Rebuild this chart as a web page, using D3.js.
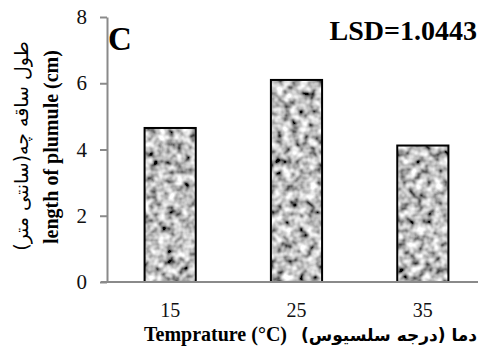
<!DOCTYPE html>
<html>
<head>
<meta charset="utf-8">
<script src="https://cdn.jsdelivr.net/npm/d3@7"></script>
<style>
  html, body { margin: 0; padding: 0; background: #fff; }
  svg { display: block; }
</style>
</head>
<body>
<svg id="chart" width="478" height="356"></svg>
<script>
// data
const categories = ['15', '25', '35'];
const values = [4.65, 6.1, 4.12];
const yTicks = [0, 2, 4, 6, 8];

const width = 478, height = 356;
const margin = { top: 17, right: -8, bottom: 74, left: 107 };

const svg = d3.select('#chart');

// granite-like texture for the bars
const defs = svg.append('defs');
const filter = defs.append('filter')
  .attr('id', 'granite')
  .attr('x', 0).attr('y', 0).attr('width', 1).attr('height', 1);
filter.append('feTurbulence')
  .attr('type', 'fractalNoise')
  .attr('baseFrequency', 0.12)
  .attr('numOctaves', 2)
  .attr('seed', 7)
  .attr('result', 'noise');
filter.append('feColorMatrix')
  .attr('in', 'noise')
  .attr('type', 'matrix')
  .attr('values', '1.9 0 0 0 -0.42  1.9 0 0 0 -0.42  1.9 0 0 0 -0.42  0 0 0 0 1')
  .attr('result', 'gray');
filter.append('feComposite')
  .attr('in', 'gray')
  .attr('in2', 'SourceGraphic')
  .attr('operator', 'in');

const x = d3.scaleBand()
  .domain(categories)
  .range([margin.left, width - margin.right])
  .paddingInner(0.595)
  .paddingOuter(0.2975);

const y = d3.scaleLinear()
  .domain([0, 8])
  .range([height - margin.bottom, margin.top]);

const axisColor = '#8a8a8a';
const serif = '"Liberation Serif", "Times New Roman", serif';

// y axis
const yAxis = svg.append('g')
  .attr('transform', `translate(${margin.left},0)`)
  .call(d3.axisLeft(y).tickValues(yTicks).tickSize(7).tickPadding(13).tickSizeOuter(0));
yAxis.attr('font-family', serif);
yAxis.select('.domain').attr('stroke', axisColor).attr('stroke-width', 2);
yAxis.selectAll('.tick line').attr('stroke', axisColor).attr('stroke-width', 2);
yAxis.selectAll('.tick text')
  .attr('fill', '#111')
  .style('font-family', serif)
  .style('font-size', '21px');

// bars
const bars = svg.append('g');
bars.selectAll('rect.fill')
  .data(values)
  .join('rect')
  .attr('class', 'fill')
  .attr('x', (d, i) => x(categories[i]))
  .attr('y', d => y(d))
  .attr('width', x.bandwidth())
  .attr('height', d => y(0) - y(d))
  .attr('fill', '#999')
  .attr('filter', 'url(#granite)');
bars.selectAll('rect.edge')
  .data(values)
  .join('rect')
  .attr('class', 'edge')
  .attr('x', (d, i) => x(categories[i]))
  .attr('y', d => y(d))
  .attr('width', x.bandwidth())
  .attr('height', d => y(0) - y(d))
  .attr('fill', 'none')
  .attr('stroke', '#000')
  .attr('stroke-width', 2);

// x axis (line only, no ticks)
const xAxis = svg.append('g')
  .attr('transform', `translate(0,${y(0)})`)
  .call(d3.axisBottom(x).tickSize(0).tickPadding(21));
xAxis.attr('font-family', serif);
xAxis.select('.domain')
  .attr('d', `M${margin.left - 6},0H${width}`)
  .attr('stroke', axisColor).attr('stroke-width', 2);
xAxis.selectAll('.tick text')
  .attr('fill', '#111')
  .style('font-family', serif)
  .style('font-size', '20px');

// x title
svg.append('text')
  .attr('x', 287).attr('y', 341)
  .attr('text-anchor', 'end')
  .style('font-family', serif)
  .style('font-weight', 'bold')
  .style('font-size', '20px')
  .text('Temprature (°C)');
svg.append('text')
  .attr('x', 389).attr('y', 341)
  .attr('text-anchor', 'middle')
  .attr('direction', 'rtl')
  .style('font-family', '"DejaVu Sans", sans-serif')
  .style('font-weight', 'bold')
  .style('font-size', '17px')
  .text('دما (درجه سلسیوس)');

// y title, two lines
svg.append('text')
  .attr('transform', 'translate(58,147) rotate(-90)')
  .attr('text-anchor', 'middle')
  .style('font-family', serif)
  .style('font-weight', 'bold')
  .style('font-size', '20px')
  .text('length of plumule  (cm)');
svg.append('text')
  .attr('transform', 'translate(28,146) rotate(-90)')
  .attr('text-anchor', 'middle')
  .attr('direction', 'rtl')
  .style('font-family', '"DejaVu Sans", sans-serif')
  .style('font-size', '19px')
  .text('طول ساقه چه(سانتی متر)');

// panel letter and LSD
svg.append('text')
  .attr('x', 108).attr('y', 50)
  .style('font-family', serif)
  .style('font-weight', 'bold')
  .style('font-size', '33px')
  .text('C');
svg.append('text')
  .attr('x', 477).attr('y', 40)
  .attr('text-anchor', 'end')
  .style('font-family', serif)
  .style('font-weight', 'bold')
  .style('font-size', '28px')
  .text('LSD=1.0443');
</script>
</body>
</html>
